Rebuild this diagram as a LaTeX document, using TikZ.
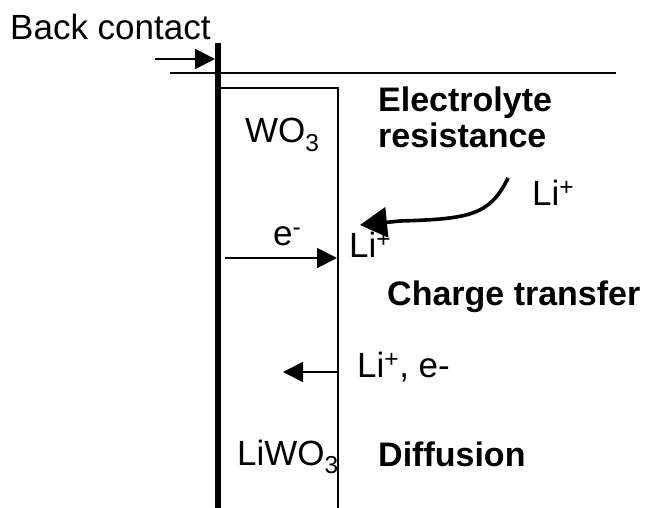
\documentclass[tikz,border=0pt]{standalone}
\usepackage{fontspec}
\setmainfont{Liberation Sans}
\usetikzlibrary{arrows.meta}
\tikzset{
  >={Triangle[length=20pt,width=20pt]},
  lbl/.style={anchor=base west,inner sep=0pt,font=\fontsize{35}{40}\selectfont},
  head/.style={lbl,font=\fontsize{34}{40}\selectfont\bfseries},
  wall/.style={line width=6.5pt},
  edge/.style={line width=2.2pt},
  flow/.style={->,line width=2pt},
  ionflow/.style={-{Triangle[length=27pt,width=30pt]},line width=3.6pt},
}
\begin{document}
\begin{tikzpicture}[x=1pt,y=-1pt]
  \useasboundingbox (0,0) rectangle (651,508);
  % back contact and film
  \coordinate (ctop) at (218,43);
  \coordinate (cbot) at (218,508);
  \draw[wall] (ctop) -- (cbot);
  \coordinate (ftop) at (218,88);
  \coordinate (fbot) at (338,508);
  \draw[edge] (ftop) -| (fbot);
  % electrolyte level
  \coordinate (ela) at (170,73);
  \coordinate (elb) at (616,73);
  \draw[line width=1.7pt] (ela) -- (elb);
  \node[lbl] (back) at (10,40) {Back contact};
  \coordinate (bin) at (155,59);
  \coordinate (bout) at (215,59);
  \draw[flow] (bin) -- (bout);
  % labels
  \node[lbl] (wo) at (245,143) {WO\textsubscript{3}};
  \node[lbl] (liwo) at (237,465) {LiWO\textsubscript{3}};
  \node[head] (elec) at (378,112) {Electrolyte};
  \node[head] (res) at (378,148) {resistance};
  \node[head] (ct) at (387,305) {Charge transfer};
  \node[head] (dif) at (378,466) {Diffusion};
  % charge transfer
  \node[lbl] (eminus) at (273,245) {e\textsuperscript{-}};
  \node[lbl] (lis) at (349,257) {Li\textsuperscript{+}};
  \coordinate (ein) at (225,258);
  \coordinate (eout) at (337,258);
  \draw[flow] (ein) -- (eout);
  \node[lbl] (lisol) at (532,205) {Li\textsuperscript{+}};
  \coordinate (ia) at (508,178);
  \coordinate (ib) at (360,225);
  \draw[ionflow] (ia) .. controls (490,215) and (470,219) .. (400,221) -- (ib);
  % diffusion
  \node[lbl] (lie) at (357,377) {Li\textsuperscript{+}, e-};
  \coordinate (da) at (338,372);
  \coordinate (db) at (283,372);
  \draw[flow] (da) -- (db);
\end{tikzpicture}
\end{document}
